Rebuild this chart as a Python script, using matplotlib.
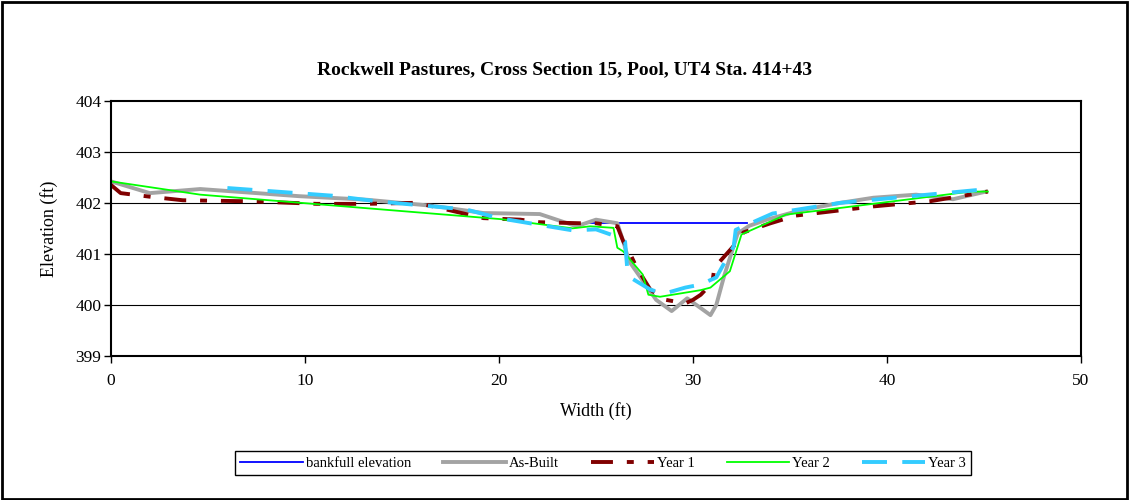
import matplotlib
matplotlib.use("Agg")
import matplotlib.pyplot as plt
from matplotlib.patches import Rectangle

plt.rcParams['font.family'] = ['Liberation Serif', 'DejaVu Serif']
plt.rcParams['lines.scale_dashes'] = False

# data
bank_x = [24.5, 32.8]
bank_y = [401.6, 401.6]

asbuilt_x = [0, 2.0, 4.6, 9.7, 13.2, 16.6, 19.2, 22.1, 24.0, 25.0, 26.1, 26.4, 26.7,
             28.1, 28.9, 29.7, 30.9, 31.2, 31.6, 32.3, 32.9, 33.8, 35.5, 37.6, 39.3,
             41.5, 43.4, 45.1]
asbuilt_y = [402.42, 402.19, 402.27, 402.13, 402.06, 401.94, 401.80, 401.78, 401.54,
             401.67, 401.60, 401.25, 400.86, 400.10, 399.88, 400.13, 399.80, 400.00,
             400.56, 401.40, 401.55, 401.67, 401.85, 402.00, 402.10, 402.16, 402.07,
             402.22]

yr1_x = [0, 0.5, 2.0, 3.7, 7.2, 10.6, 13.2, 15.7, 16.6, 19.2, 21.1, 22.1, 24.2, 25.0,
         26.1, 26.4, 26.7, 27.1, 27.8, 28.6, 29.6, 30.0, 30.4, 31.0, 31.1, 32.25, 32.6,
         34.0, 35.3, 39.3, 42.2, 45.2]
yr1_y = [402.35, 402.19, 402.12, 402.05, 402.03, 401.98, 401.98, 402.00, 401.93,
         401.70, 401.67, 401.62, 401.60, 401.60, 401.54, 401.25, 401.05, 400.73,
         400.30, 400.10, 400.03, 400.10, 400.20, 400.44, 400.73, 401.22, 401.42,
         401.60, 401.75, 401.93, 402.03, 402.22]

yr2_x = [0, 4.6, 20.1, 23.8, 24.7, 25.9, 26.1, 26.4, 27.4, 27.7, 28.3, 30.4, 30.9,
         31.9, 32.5, 34.8, 37.6, 44.3, 45.2]
yr2_y = [402.42, 402.16, 401.68, 401.50, 401.54, 401.51, 401.12, 401.05, 400.60,
         400.20, 400.16, 400.29, 400.34, 400.66, 401.38, 401.77, 401.90, 402.22,
         402.22]

yr3_x = [6.0, 11.4, 13.7, 18.3, 20.0, 23.8, 25.0, 25.9, 26.5, 26.6, 26.8, 27.8, 28.5,
         29.6, 30.4, 31.2, 32.1, 32.2, 34.1, 37.6, 45.2]
yr3_y = [402.29, 402.14, 402.03, 401.87, 401.70, 401.46, 401.48, 401.36, 401.24,
         400.76, 400.53, 400.30, 400.22, 400.34, 400.40, 400.54, 401.15, 401.47,
         401.79, 402.00, 402.27]

fig = plt.figure(figsize=(11.29, 5.0), dpi=100)
ax = fig.add_axes([0.0983, 0.288, 0.8592, 0.5106])

for yv in [400, 401, 402, 403]:
    ax.axhline(yv, color='black', lw=0.8, zorder=0)

ax.plot(bank_x, bank_y, color='#0000FF', lw=1.3, label='bankfull elevation')
ax.plot(asbuilt_x, asbuilt_y, color='#A3A3A3', lw=2.8, label='As-Built')
ax.plot(yr1_x, yr1_y, color='#800000', lw=2.8, dashes=[15.8, 10, 5, 10], label='Year 1')
ax.plot(yr2_x, yr2_y, color='#00FF00', lw=1.3, label='Year 2')
ax.plot(yr3_x, yr3_y, color='#33CCFF', lw=2.8, dashes=[18, 11], label='Year 3')

ax.set_xlim(0, 50)
ax.set_ylim(399, 404)
ax.set_xticks(range(0, 51, 10))
ax.set_yticks(range(399, 405))
ax.tick_params(direction='out', length=5, width=1, labelsize=12.5)
ax.tick_params(axis='x', pad=7)
ax.tick_params(axis='y', pad=2)
for s in ax.spines.values():
    s.set_linewidth(1.5)

ax.set_xlabel('Width (ft)', fontsize=13, labelpad=10)
ax.set_ylabel('Elevation (ft)', fontsize=13, labelpad=12)
fig.text(0.5, 0.86, 'Rockwell Pastures, Cross Section 15, Pool, UT4 Sta. 414+43',
         ha='center', va='center', fontsize=14, fontweight='bold')

leg = fig.legend(loc='center', bbox_to_anchor=(603 / 1129, 1 - 463 / 500), ncol=5,
                 fontsize=10.5, handlelength=4.3, handletextpad=0.2, columnspacing=2.2,
                 fancybox=False, framealpha=1, edgecolor='black', borderpad=0.35)
leg.get_frame().set_linewidth(1.0)

fig.patches.append(Rectangle((0.002, 0.002), 0.996, 0.994, transform=fig.transFigure,
                             fill=False, edgecolor='black', lw=2))

fig.savefig('out.png', dpi=100)
